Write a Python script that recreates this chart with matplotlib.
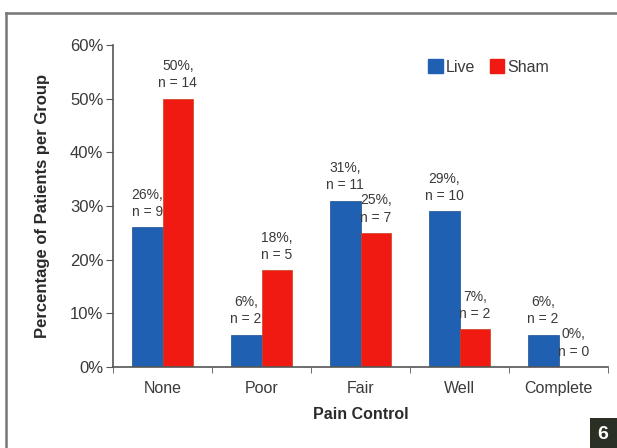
import matplotlib
matplotlib.use("Agg")
import matplotlib.pyplot as plt
from matplotlib import font_manager
from matplotlib.lines import Line2D
from matplotlib.patches import Rectangle, Patch
import numpy as np

#Data
categories = ["None", "Poor", "Fair", "Well", "Complete"]
live_pct = [26, 6, 31, 29, 6]
sham_pct = [50, 18, 25, 7, 0]
live_n = [9, 2, 11, 10, 2]
sham_n = [14, 5, 7, 2, 0]
yticks = [0, 10, 20, 30, 40, 50, 60]

#Pick a narrow font if there is one
names = set(f.name for f in font_manager.fontManager.ttflist)
if "Liberation Sans Narrow" in names:
    fam = "Liberation Sans Narrow"
else:
    fam = "Liberation Sans"
plt.rcParams["font.family"] = [fam, "DejaVu Sans"]

textCol = "#3a3a3a"
blue = "#1f60b2"
red = "#f01a12"

fig = plt.figure(figsize=(6.17, 4.48), dpi=100)
ax = fig.add_axes([113/617, 1 - 367/448, 495/617, 322/448])

x = np.arange(len(categories))
w = 0.31
barsLive = ax.bar(x - w/2, live_pct, w, color=blue, edgecolor="#1a4f90", linewidth=0.5)
barsSham = ax.bar(x + w/2, sham_pct, w, color=red, edgecolor="#c8401a", linewidth=0.5)

#Value labels above the bars
for bars, pct, n in [(barsLive, live_pct, live_n), (barsSham, sham_pct, sham_n)]:
    for b, p, k in zip(bars, pct, n):
        ax.annotate("%d%%,\nn = %d" % (p, k), (b.get_x() + b.get_width()/2, p),
                    xytext=(0, 6), textcoords="offset points", ha="center", va="bottom",
                    fontsize=10, color=textCol, linespacing=1.3)

ax.set_xlim(-0.5, 4.5)
ax.set_ylim(0, 60)
ax.set_yticks(yticks)
ax.set_yticklabels(["%d%%" % t for t in yticks])
ax.set_xticks(x)
ax.set_xticklabels(categories)
ax.set_xticks(np.arange(-0.5, 5.0, 1.0), minor=True)
ax.tick_params(axis="x", which="major", length=0, pad=10, labelsize=11.5, labelcolor=textCol)
ax.tick_params(axis="x", which="minor", length=4, color="#555555")
ax.tick_params(axis="y", length=5, color="#555555", labelsize=12, labelcolor=textCol, pad=2)

for s in ["top", "right"]:
    ax.spines[s].set_visible(False)
for s in ["left", "bottom"]:
    ax.spines[s].set_color("#555555")
    ax.spines[s].set_linewidth(1.2)

ax.set_xlabel("Pain Control", fontsize=11.5, fontweight="bold", color="#2a2a2a", labelpad=8)
ax.set_ylabel("Percentage of Patients per Group", fontsize=12, fontweight="bold", color="#2a2a2a", labelpad=14)

handles = [Patch(color=blue, label="Live"), Patch(color=red, label="Sham")]
ax.legend(handles=handles, ncol=2, frameon=False, loc="upper right", bbox_to_anchor=(0.91, 1.0),
          handlelength=0.9, handleheight=0.9, handletextpad=0.2, columnspacing=0.9,
          fontsize=11.5, labelcolor=textCol)

#Outer frame (left and top only are visible) and figure number box
fig.lines.append(Line2D([6/617, 6/617], [0, 1 - 13/448], transform=fig.transFigure,
                        color="#777777", linewidth=1.8))
fig.lines.append(Line2D([6/617, 1], [1 - 13/448, 1 - 13/448], transform=fig.transFigure,
                        color="#777777", linewidth=1.8))
fig.patches.append(Rectangle((590/617, 0), 27/617, 30/448, transform=fig.transFigure,
                             facecolor="#2b3024", edgecolor="none"))
fig.text(603/617, 14/448, "6", color="white", fontsize=14, fontweight="bold", ha="center", va="center")

fig.savefig("out.png", dpi=100)
